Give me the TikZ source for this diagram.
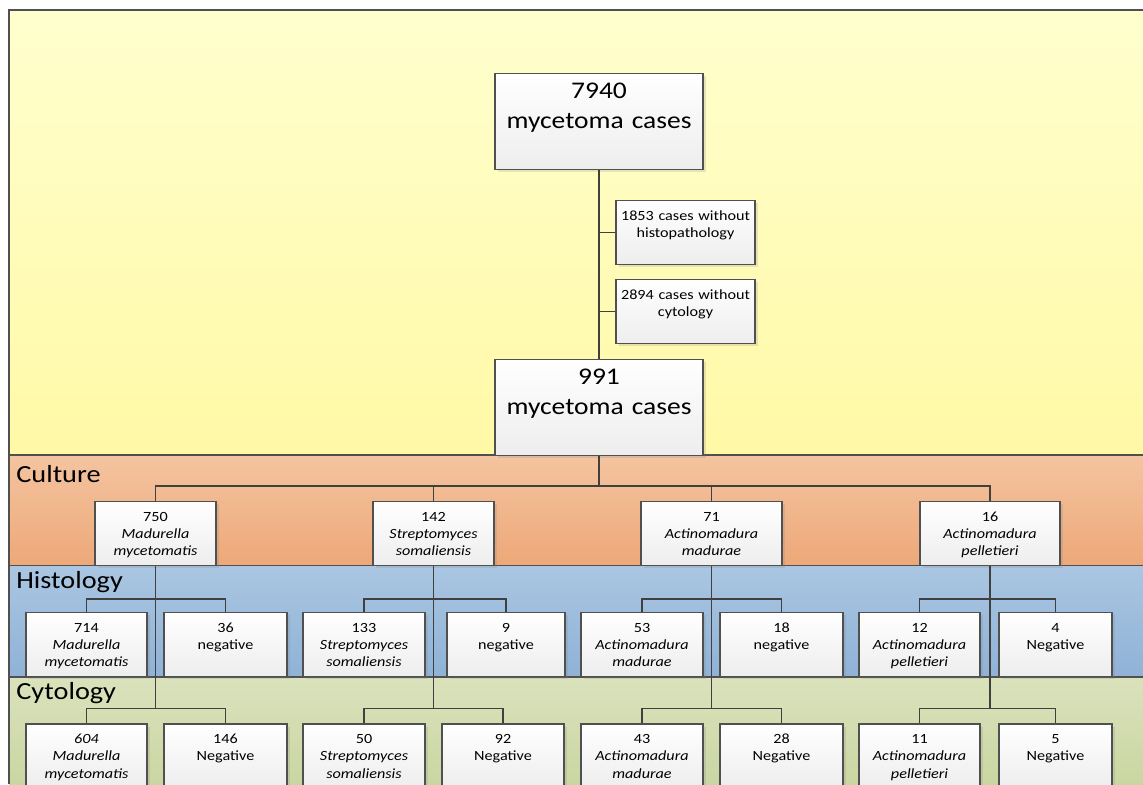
\documentclass[tikz,border=0pt]{standalone}
\usepackage{fontspec}
\setmainfont{Carlito}[FakeStretch=1.15]
\usetikzlibrary{positioning,shadows}

\definecolor{yeltop}{RGB}{255,255,206}
\definecolor{yelbot}{RGB}{255,249,166}
\definecolor{orgtop}{RGB}{244,196,160}
\definecolor{orgbot}{RGB}{237,168,120}
\definecolor{blutop}{RGB}{170,198,226}
\definecolor{blubot}{RGB}{143,178,214}
\definecolor{grntop}{RGB}{218,226,188}
\definecolor{grnbot}{RGB}{202,214,162}
\definecolor{linegray}{RGB}{64,64,64}
\definecolor{boxline}{RGB}{80,80,80}

\tikzset{
  box/.style={draw=boxline, line width=0.6pt, top color=white, bottom color=gray!14,
    drop shadow={opacity=0.2, shadow xshift=0.5mm, shadow yshift=-0.5mm}},
  bigbox/.style={box, minimum width=41.6mm, minimum height=19.2mm, text width=40mm,
    align=center, inner xsep=0pt, inner ysep=0.4mm, text height=4.5mm, text depth=13.9mm,
    font=\fontsize{13.6}{17.6}\selectfont},
  smallbox/.style={box, minimum height=12.8mm, text width=22mm,
    align=center, inner xsep=0pt, inner ysep=0.4mm, text height=3.5mm, text depth=8.5mm,
    font=\fontsize{8}{9.9}\selectfont},
  notebox/.style={smallbox, minimum width=27.8mm, text width=27mm},
  band/.style={anchor=base west, inner sep=0pt, font=\fontsize{14}{16}\selectfont},
  rule/.style={draw=boxline, line width=0.7pt},
  link/.style={draw=linegray, line width=0.7pt}
}

\begin{document}
\begin{tikzpicture}[x=0.2mm, y=-0.2mm]
  \clip (0,0) rectangle (1143,784);
  \fill[white] (0,0) rectangle (1143,784);

  % bands
  \shade[top color=yeltop, bottom color=yelbot] (9,10) rectangle (1143,455);
  \shade[top color=orgtop, bottom color=orgbot] (9,455) rectangle (1143,565.5);
  \shade[top color=blutop, bottom color=blubot] (9,565.5) rectangle (1143,677);
  \shade[top color=grntop, bottom color=grnbot] (9,677) rectangle (1143,784);
  \draw[rule] (1143,10) -- (9,10) -- (9,784);
  \foreach \y in {455,565.5,677} \draw[rule] (9,\y) -- (1143,\y);

  \node[band] (culture) at (16,482) {Culture};
  \node[band] (histology) at (16,588) {Histology};
  \node[band] (cytology) at (16,699) {Cytology};

  % selection
  \node[bigbox] (total) at (599,121.5) {7940\\mycetoma cases};
  \node[notebox] (nohisto) at (685.5,232.5) {1853 cases without\\histopathology};
  \node[notebox] (nocyto) at (685.5,311.5) {2894 cases without\\cytology};
  \node[bigbox] (included) at (599,407.5) {991\\mycetoma cases};

  % culture
  \node[smallbox, minimum width=24.2mm] (c750) at (155.5,533.5) {750\\\textit{Madurella}\\\textit{mycetomatis}};
  \node[smallbox, minimum width=24.2mm] (c142) at (433.5,533.5) {142\\\textit{Streptomyces}\\\textit{somaliensis}};
  \node[smallbox, minimum width=28.2mm] (c71) at (711.5,533.5) {71\\\textit{Actinomadura}\\\textit{madurae}};
  \node[smallbox, minimum width=28mm] (c16) at (990,533.5) {16\\\textit{Actinomadura}\\\textit{pelletieri}};

  % histology
  \node[smallbox, minimum width=24.2mm] (h714) at (86.5,644.5) {714\\\textit{Madurella}\\\textit{mycetomatis}};
  \node[smallbox, minimum width=24.6mm] (h36) at (225.5,644.5) {36\\negative};
  \node[smallbox, minimum width=24.4mm] (h133) at (364,644.5) {133\\\textit{Streptomyces}\\\textit{somaliensis}};
  \node[smallbox, minimum width=23.6mm] (h9) at (506,644.5) {9\\negative};
  \node[smallbox, minimum width=24.4mm] (h53) at (642,644.5) {53\\\textit{Actinomadura}\\\textit{madurae}};
  \node[smallbox, minimum width=24.6mm] (h18) at (781.5,644.5) {18\\negative};
  \node[smallbox, minimum width=24.2mm] (h12) at (919.5,644.5) {12\\\textit{Actinomadura}\\\textit{pelletieri}};
  \node[smallbox, minimum width=22.6mm] (h4) at (1055.5,644.5) {4\\Negative};

  % cytology
  \node[smallbox, minimum width=24.2mm] (y604) at (86.5,756) {\textit{604}\\\textit{Madurella}\\\textit{mycetomatis}};
  \node[smallbox, minimum width=24.6mm] (y146) at (225.5,756) {146\\Negative};
  \node[smallbox, minimum width=24.4mm] (y50) at (364,756) {50\\\textit{Streptomyces}\\\textit{somaliensis}};
  \node[smallbox, minimum width=24.4mm] (y92) at (503,756) {92\\Negative};
  \node[smallbox, minimum width=24.4mm] (y43) at (642,756) {43\\\textit{Actinomadura}\\\textit{madurae}};
  \node[smallbox, minimum width=24.6mm] (y28) at (781.5,756) {28\\Negative};
  \node[smallbox, minimum width=24.2mm] (y11) at (919.5,756) {11\\\textit{Actinomadura}\\\textit{pelletieri}};
  \node[smallbox, minimum width=22.6mm] (y5) at (1055.5,756) {5\\Negative};

  % connectors
  \draw[link] (total) -- (included);
  \draw[link] (nohisto.west) -- (nohisto.west -| total.south);
  \draw[link] (nocyto.west) -- (nocyto.west -| total.south);
  \foreach \c in {c750,c142,c71,c16}
    \draw[link] (included.south) -- ++(0,30) -| (\c.north);
  \foreach \p/\a/\b in {c750/h714/h36, c142/h133/h9, c71/h53/h18, c16/h12/h4} {
    \draw[link] (\p.south) -- ++(0,33) -| (\a.north);
    \draw[link] (\p.south) -- ++(0,33) -| (\b.north);
  }
  \foreach \p/\a/\b in {c750/y604/y146, c142/y50/y92, c71/y43/y28, c16/y11/y5} {
    \draw[link] (\p.south) -- ++(0,142.5) -| (\a.north);
    \draw[link] (\p.south) -- ++(0,142.5) -| (\b.north);
  }
\end{tikzpicture}
\end{document}
